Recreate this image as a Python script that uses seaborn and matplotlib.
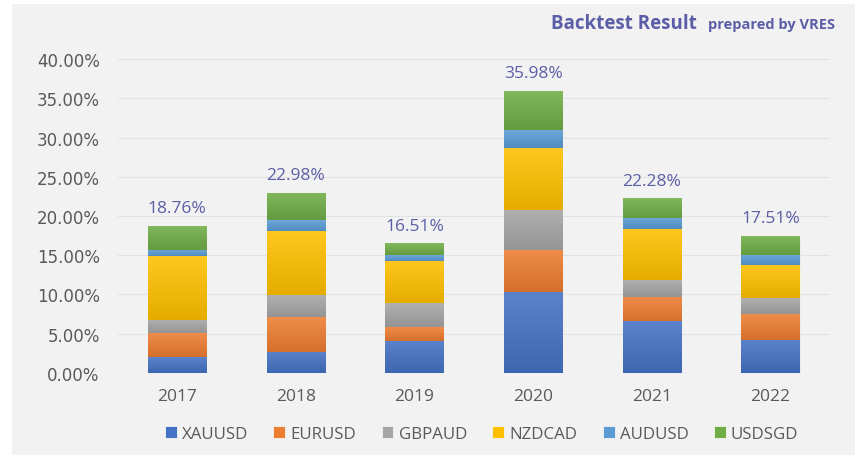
import seaborn as sns
import pandas as pd
import numpy as np
import matplotlib.pyplot as plt
from matplotlib.patches import Rectangle
from matplotlib.colors import LinearSegmentedColormap, to_rgb
from matplotlib.ticker import FuncFormatter

years = ['2017', '2018', '2019', '2020', '2021', '2022']
pairs = ['XAUUSD', 'EURUSD', 'GBPAUD', 'NZDCAD', 'AUDUSD', 'USDSGD']
xauusd = [2.0, 2.7, 4.1, 10.3, 6.6, 4.25]
eurusd = [3.1, 4.4, 1.8, 5.4, 3.1, 3.25]
gbpaud = [1.7, 2.8, 3.0, 5.1, 2.2, 2.0]
nzdcad = [8.05, 8.2, 5.4, 7.9, 6.4, 4.26]
audusd = [0.85, 1.4, 0.7, 2.3, 1.45, 1.3]
usdsgd = [3.06, 3.48, 1.51, 4.98, 2.53, 2.45]
totals = [18.76, 22.98, 16.51, 35.98, 22.28, 17.51]

colors = ['#4472C4', '#ED7D31', '#A5A5A5', '#FFC000', '#5B9BD5', '#70AD47']

data = pd.DataFrame({'Year': years, 'XAUUSD': xauusd, 'EURUSD': eurusd,
                     'GBPAUD': gbpaud, 'NZDCAD': nzdcad, 'AUDUSD': audusd,
                     'USDSGD': usdsgd})

sns.set_theme(style='whitegrid')
plt.rcParams['font.family'] = ['Open Sans', 'DejaVu Sans']

fig = plt.figure(figsize=(8.59, 4.56), dpi=100, facecolor='white')
# grey card behind the chart
fig.patches.append(Rectangle((12 / 859, 0), 843 / 859, 451 / 456,
                             transform=fig.transFigure, facecolor='#f2f2f2',
                             edgecolor='none', zorder=-10))
ax = fig.add_axes([0.137, 0.18, 0.829, 0.688])
ax.set_facecolor('none')

bottom = [0.0] * len(years)
for pair, col in zip(pairs, colors):
    sns.barplot(x='Year', y=pair, data=data, bottom=bottom, color=col,
                width=0.49, saturation=1, label=pair, ax=ax, zorder=3,
                edgecolor='#f4f4f4', linewidth=0.6)
    bottom = [b + v for b, v in zip(bottom, data[pair])]


def shade(c, f):
    r = np.array(to_rgb(c))
    return tuple(np.clip(r * f if f < 1 else r + (1 - r) * (f - 1), 0, 1))


# soft vertical gradient on each bar (lighter on top, darker below)
grad = np.linspace(0, 1, 64).reshape(-1, 1)
for bar in list(ax.patches):
    col = bar.get_facecolor()[:3]
    cmap = LinearSegmentedColormap.from_list('g', [shade(col, 1.12), shade(col, 0.9)])
    x0, y0 = bar.get_x(), bar.get_y()
    im = ax.imshow(grad, cmap=cmap, aspect='auto', zorder=3.5,
                   extent=[x0, x0 + bar.get_width(), y0, y0 + bar.get_height()],
                   origin='upper')
    im.set_clip_path(bar)

# total labels on top of bars
for i, t in enumerate(totals):
    ax.text(i, t + 1.2, f'{t:.2f}%', ha='center', va='bottom',
            fontsize=12.5, color='#5B5EA6')

ax.set_xlim(-0.5, len(years) - 0.5)
ax.set_ylim(0, 40)
ax.set_yticks(range(0, 41, 5))
ax.yaxis.set_major_formatter(FuncFormatter(lambda v, p: f'{v:.2f}%'))
ax.set_xlabel('')
ax.set_ylabel('')
ax.tick_params(axis='y', labelsize=12, labelcolor='#595959', pad=13, length=0)
ax.tick_params(axis='x', labelsize=12.5, labelcolor='#595959', pad=11, length=0)
for lab in ax.get_yticklabels():
    lab.set_family('DejaVu Sans')
ax.grid(axis='y', color='#e2e2e2', linewidth=0.8)
ax.grid(axis='x', visible=False)
for s in ax.spines.values():
    s.set_visible(False)

leg = ax.legend(loc='center', bbox_to_anchor=(0.511, -0.195), ncol=6,
                frameon=False, handlelength=0.7, handleheight=0.7,
                handletextpad=0.3, columnspacing=1.5,
                prop={'family': ['Open Sans', 'DejaVu Sans'], 'size': 12.2})
for txt in leg.get_texts():
    txt.set_color('#595959')

fig.text(0.811, 0.948, 'Backtest Result', ha='right', va='center',
         fontsize=13.5, fontweight='bold', color='#5B5EA6')
fig.text(0.824, 0.946, 'prepared by VRES', ha='left', va='center',
         fontsize=10.5, fontweight='bold', color='#5B5EA6')

fig.savefig('out.png', dpi=100, facecolor='white')
